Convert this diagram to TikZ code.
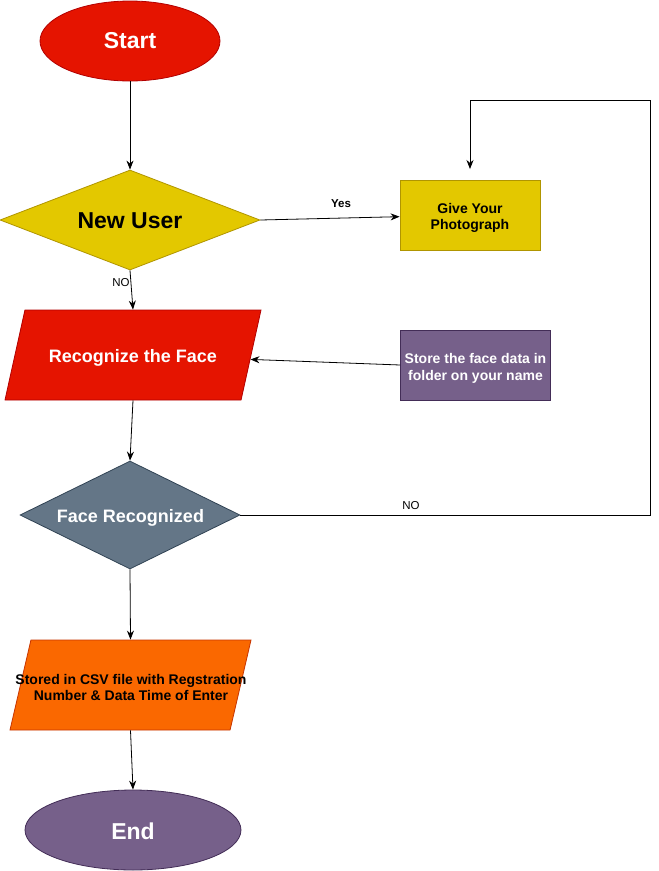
\documentclass[tikz,border=0pt]{standalone}
\usepackage{fontspec}
\setmainfont{Liberation Sans}
\usetikzlibrary{shapes.geometric,arrows.meta}
\definecolor{cred}{HTML}{E51400}
\definecolor{credb}{HTML}{B20000}
\definecolor{cyel}{HTML}{E3C800}
\definecolor{cyelb}{HTML}{B09500}
\definecolor{cpur}{HTML}{76608A}
\definecolor{cpurb}{HTML}{432D57}
\definecolor{cslate}{HTML}{647687}
\definecolor{cslateb}{HTML}{314354}
\definecolor{corg}{HTML}{FA6800}
\definecolor{corgb}{HTML}{C73500}
\begin{document}
\begin{tikzpicture}[x=1pt,y=-1pt,
  big/.style={font=\fontsize{23}{27}\selectfont\bfseries, inner sep=0pt},
  mid/.style={font=\fontsize{18}{21}\selectfont\bfseries, inner sep=0pt},
  small/.style={font=\fontsize{14}{16.8}\selectfont\bfseries, align=center, inner sep=0pt},
  lbl/.style={font=\fontsize{11.5}{13}\selectfont},
  lblb/.style={font=\fontsize{11.5}{13}\selectfont\bfseries},
  term/.style={ellipse, inner sep=0pt, line width=0.8pt},
  dec/.style={diamond, inner sep=0pt, line width=0.8pt},
  io/.style={trapezium, trapezium stretches body=true, inner xsep=0pt, inner ysep=45pt, line width=0.8pt},
  proc/.style={rectangle, inner sep=0pt, line width=0.8pt},
  arr/.style={-{Stealth[length=9pt,width=7pt]}, line width=0.8pt}]
\useasboundingbox (0,0) rectangle (659,871);

\node[term, fill=cred, draw=credb, minimum width=180pt, minimum height=80pt] (start) at (130,41) {};
\node[big, text=white] (startt) at (130,41) {Start};
\node[dec, aspect=2.6, fill=cyel, draw=cyelb, minimum width=260pt, minimum height=100pt] (nu) at (130,220) {};
\node[big] (nut) at (130,221) {New User};
\node[proc, fill=cyel, draw=cyelb, minimum width=140pt, minimum height=70pt] (give) at (470,215) {};
\node[small] (givet) at (470,218) {Give Your\\Photograph};
\node[io, trapezium left angle=77.5, trapezium right angle=102.5, fill=cred, draw=credb, minimum width=256pt] (rec) at (133,355) {};
\node[mid, text=white] (rect) at (133,357.8) {Recognize the Face};
\node[proc, fill=cpur, draw=cpurb, minimum width=150pt, minimum height=70pt] (store) at (475.5,365) {};
\node[small, text=white] (storet) at (475.5,368) {Store the face data in\\folder on your name};
\node[dec, aspect=2, fill=cslate, draw=cslateb, minimum width=220pt, minimum height=108pt] (fr) at (130,515) {};
\node[mid, text=white] (frt) at (130.5,518) {Face Recognized};
\node[io, trapezium left angle=76.9, trapezium right angle=103.1, fill=corg, draw=corgb, minimum width=241pt] (stored) at (130.5,685) {};
\node[small] (storedt) at (131,687.5) {Stored in CSV file with Regstration\\Number \& Data Time of Enter};
\node[term, fill=cpur, draw=cpurb, minimum width=216pt, minimum height=80pt] (end) at (133,830) {};
\node[big, text=white] (endt) at (133,831) {End};

\coordinate (loopc) at (650,100);
\coordinate (gin) at (470,169);

\draw[arr] (start) -- (nu);
\draw[arr] (nu.east) -- (give);
\draw[arr] (nu.south) -- (rec.north);
\draw[arr] (store.west) -- (rec);
\draw[arr] (rec.south) -- (fr.north);
\draw[arr] (fr.east) -| (loopc) -| (gin);
\draw[arr] (fr.south) -- (stored.north);
\draw[arr] (stored.south) -- (end.north);

\node[lblb] (yes) at (341,204) {Yes};
\node[lbl] (no1) at (121,283) {NO};
\node[lbl] (no2) at (411,506) {NO};
\end{tikzpicture}
\end{document}
